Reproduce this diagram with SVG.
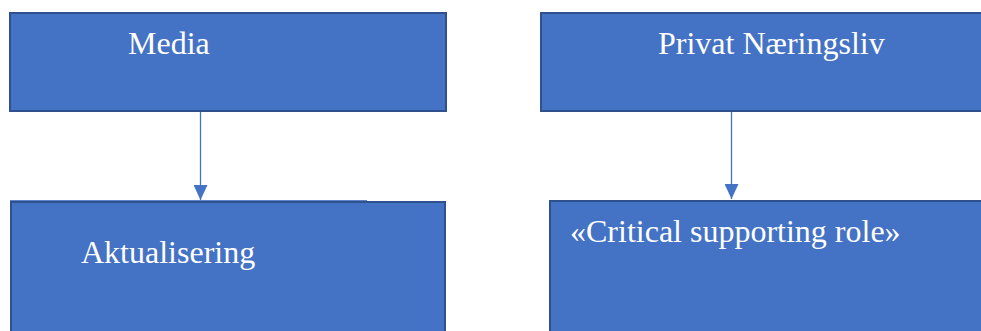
<svg xmlns="http://www.w3.org/2000/svg" width="981" height="331" viewBox="0 0 981 331">
  <defs>
    <style>
      .box { fill: #4472C4; stroke: #2F528F; stroke-width: 2; }
      .label { fill: #FFFFFF; font-family: "Liberation Serif", "Times New Roman", serif; font-size: 32px; }
      .conn { stroke: #4472C4; stroke-width: 1.3; fill: none; }
    </style>
    <marker id="arrow" markerUnits="userSpaceOnUse" markerWidth="16" markerHeight="14" refX="15" refY="7" orient="auto">
      <path d="M0,0 L15,7 L0,14 Z" fill="#4472C4"/>
    </marker>
  </defs>
  <g id="connectors">
    <line class="conn" x1="200.5" y1="112" x2="200.5" y2="200" marker-end="url(#arrow)"/>
    <line class="conn" x1="731.5" y1="112" x2="731.5" y2="199" marker-end="url(#arrow)"/>
  </g>
  <g id="node-media">
    <rect class="box" x="10" y="13" width="436" height="98"/>
    <text class="label" x="128" y="54">Media</text>
  </g>
  <g id="node-privat">
    <rect class="box" x="541" y="13" width="460" height="98"/>
    <text class="label" x="658" y="54">Privat Næringsliv</text>
  </g>
  <g id="node-aktualisering">
    <rect class="box" x="11" y="202" width="434" height="150"/>
    <line x1="10" y1="200.5" x2="367" y2="200.5" stroke="#5B84CC" stroke-width="1"/>
    <text class="label" x="81" y="263">Aktualisering</text>
  </g>
  <g id="node-critical">
    <rect class="box" x="550" y="201" width="450" height="150"/>
    <text class="label" x="570" y="242">«Critical supporting role»</text>
  </g>
</svg>
